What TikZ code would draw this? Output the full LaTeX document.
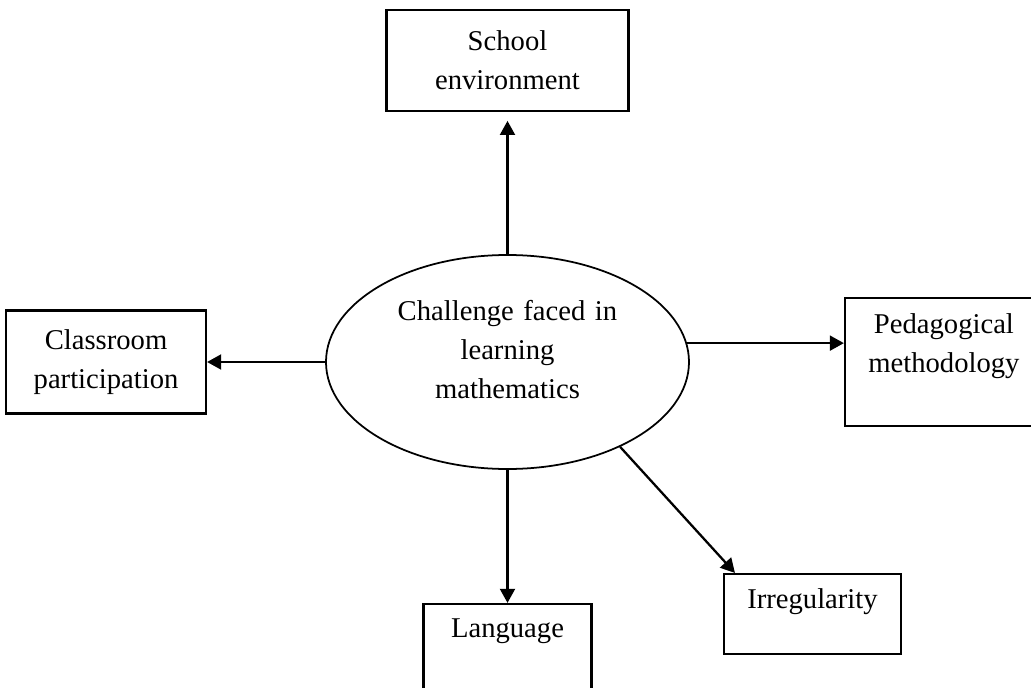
\documentclass[tikz,border=0pt]{standalone}
\usepackage{fontspec}
\setmainfont{Liberation Serif}
\usetikzlibrary{shapes,arrows.meta,positioning}

\begin{document}
\begin{tikzpicture}[node distance=2.5cm, auto, line width=1.2pt, font=\fontsize{16.3}{22.2}\selectfont]
    % Stili
    \tikzstyle{box}=[rectangle, draw=black, align=center, inner sep=0.3cm]
    \tikzstyle{centre}=[ellipse, draw=black, line width=1pt, align=center, inner sep=0pt, minimum width=7.26cm, minimum height=4.28cm]
    \tikzstyle{arrow}=[->, >={Triangle[length=8pt, width=8.5pt]}, line width=1.3pt]

    \useasboundingbox (-10.15,-6.5) rectangle (10.47,7.24);

    % Nodo centrale
    \node (challenge) [centre, text width=4.6cm, text depth=2.08cm] at (0,0) {Challenge faced in\\learning\\mathematics};

    % Fattori
    \node (school) [box, above=2.84cm of challenge, minimum width=4.84cm, minimum height=2.02cm] {School\\environment};
    \node (classroom) [box, left=2.36cm of challenge, minimum width=4cm, minimum height=2.06cm] {Classroom\\participation};
    \node (pedagogy) [box, right=3.08cm of challenge, minimum width=3.96cm, text width=3.3cm, text depth=1.55cm] {Pedagogical\\methodology};
    \node (language) [box, below=2.66cm of challenge, minimum width=3.36cm, text depth=1.02cm] {Language};
    \node (irregular) [box, below=2.06cm of challenge, xshift=6.1cm, minimum width=3.54cm, text depth=0.61cm] {Irregularity};

    % Collegamenti
    \draw [arrow, shorten >=5pt] (challenge.north) -- (school.south);
    \draw [arrow] (challenge.west) -- (classroom.east);
    \draw [arrow] (challenge.6) -- (challenge.6 -| pedagogy.west);
    \draw [arrow] (challenge.south) -- (language.north);
    \draw [arrow] (challenge.-37) -- ([xshift=0.24cm]irregular.north west);

\end{tikzpicture}
\end{document}
